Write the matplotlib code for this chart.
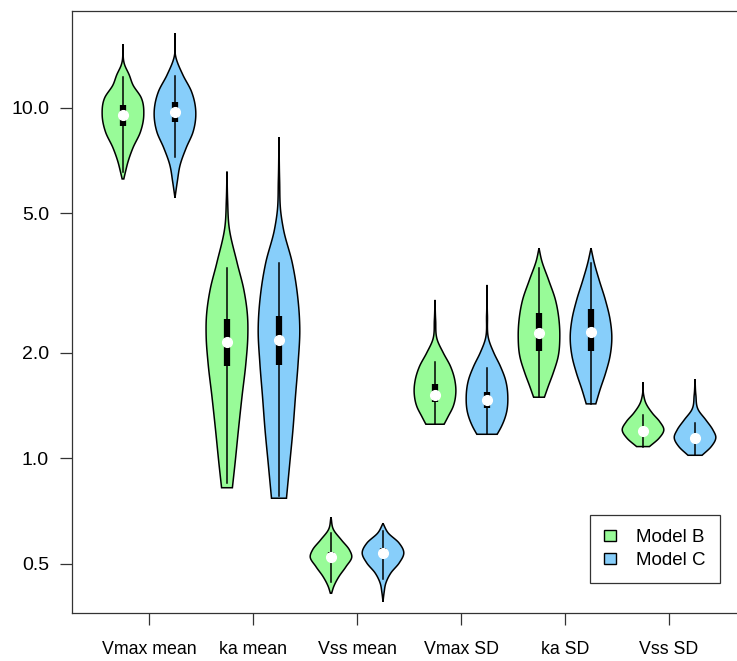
import numpy as np
import matplotlib.pyplot as plt
from matplotlib.patches import Patch

plt.rcParams['font.family'] = ['Liberation Sans', 'DejaVu Sans']

# parameters and models
params = ["Vmax mean", "ka mean", "Vss mean", "Vmax SD", "ka SD", "Vss SD"]
models = ["Model B", "Model C"]
colors = ["#98FB98", "#87CEFA"]

# Model B: box summaries
b_whi = [12.25, 3.49, 0.614, 1.89, 3.49, 1.33]
b_q3 = [10.2, 2.50, 0.54, 1.632, 2.60, 1.22]
b_med = [9.55, 2.15, 0.525, 1.518, 2.285, 1.20]
b_q1 = [8.88, 1.84, 0.51, 1.445, 2.03, 1.18]
b_wlo = [6.57, 0.85, 0.445, 1.252, 1.495, 1.081]

# Model C: box summaries
c_whi = [12.3, 3.6, 0.62, 1.81, 3.62, 1.26]
c_q3 = [10.38, 2.55, 0.555, 1.55, 2.665, 1.16]
c_med = [9.76, 2.17, 0.539, 1.468, 2.30, 1.14]
c_q1 = [9.14, 1.85, 0.525, 1.39, 2.03, 1.12]
c_wlo = [7.26, 0.78, 0.454, 1.172, 1.431, 1.021]

# Model B: density outline (value levels, relative half-width)
b_levels = [
    [15.2, 13.27, 12.42, 11.63, 10.68, 9.55, 8.54, 7.69, 7.01, 6.57, 6.27],
    [6.58, 5.47, 4.58, 3.61, 3.03, 2.53, 2.22, 1.873, 1.497, 1.206, 0.971, 0.825],
    [0.680, 0.625, 0.5855, 0.548, 0.5245, 0.491, 0.460, 0.4307, 0.4125],
    [2.833, 2.484, 2.178, 2.0, 1.828, 1.675, 1.535, 1.405, 1.316, 1.252],
    [3.98, 3.685, 3.231, 2.833, 2.484, 2.226, 1.952, 1.751, 1.603, 1.495],
    [1.650, 1.518, 1.437, 1.346, 1.274, 1.206, 1.142, 1.081],
]
b_widths = [
    [0.0, 0.08, 0.30, 0.48, 0.88, 1.0, 0.84, 0.48, 0.24, 0.12, 0.04],
    [0.0, 0.03, 0.10, 0.49, 0.81, 0.99, 1.0, 0.91, 0.72, 0.55, 0.39, 0.26],
    [0.0, 0.13, 0.50, 0.89, 1.0, 0.72, 0.38, 0.13, 0.03],
    [0.0, 0.03, 0.11, 0.40, 0.75, 0.95, 1.0, 0.87, 0.63, 0.44],
    [0.0, 0.12, 0.46, 0.79, 0.96, 1.0, 0.92, 0.68, 0.44, 0.26],
    [0.0, 0.03, 0.14, 0.45, 0.80, 1.0, 0.77, 0.31],
]

# Model C: density outline (value levels, relative half-width)
c_levels = [
    [16.34, 13.89, 12.42, 11.11, 9.74, 8.54, 7.69, 6.88, 6.15, 5.54],
    [8.25, 6.23, 5.02, 4.49, 3.61, 2.89, 2.33, 1.873, 1.497, 1.206, 0.971, 0.770],
    [0.653, 0.613, 0.574, 0.5385, 0.5033, 0.4714, 0.4414, 0.4133, 0.3904],
    [3.126, 2.567, 2.178, 2.0, 1.828, 1.675, 1.501, 1.346, 1.232, 1.172],
    [3.98, 3.606, 3.231, 2.833, 2.484, 2.226, 1.952, 1.751, 1.568, 1.431],
    [1.683, 1.518, 1.375, 1.288, 1.206, 1.149, 1.081, 1.021],
]
c_widths = [
    [0.0, 0.05, 0.38, 0.80, 1.0, 0.87, 0.54, 0.25, 0.11, 0.0],
    [0.0, 0.03, 0.09, 0.22, 0.64, 0.90, 1.0, 0.92, 0.79, 0.67, 0.52, 0.36],
    [0.0, 0.25, 0.77, 1.0, 0.78, 0.38, 0.14, 0.05, 0.0],
    [0.0, 0.02, 0.09, 0.33, 0.65, 0.89, 1.0, 0.93, 0.69, 0.49],
    [0.0, 0.16, 0.39, 0.69, 0.92, 1.0, 0.91, 0.70, 0.43, 0.23],
    [0.0, 0.04, 0.16, 0.52, 0.86, 1.0, 0.78, 0.34],
]


def smooth_outline(levels, widths, n=200):
    # cubic hermite through the outline points, in log10 space
    t = np.log10(levels)[::-1]
    w = np.array(widths, dtype=float)[::-1]
    m = np.gradient(w, t)
    tt = np.linspace(t[0], t[-1], n)
    idx = np.clip(np.searchsorted(t, tt) - 1, 0, len(t) - 2)
    h = t[idx + 1] - t[idx]
    s = (tt - t[idx]) / h
    h00 = 2 * s**3 - 3 * s**2 + 1
    h10 = s**3 - 2 * s**2 + s
    h01 = -2 * s**3 + 3 * s**2
    h11 = s**3 - s**2
    ww = h00 * w[idx] + h10 * h * m[idx] + h01 * w[idx + 1] + h11 * h * m[idx + 1]
    return 10**tt, np.clip(ww, 0, None)


def draw_violin(ax, pos, levels, widths, color, wlo, q1, med, q3, whi, half=0.4):
    yy, ww = smooth_outline(levels, widths)
    xs = np.concatenate([pos - half * ww, (pos + half * ww)[::-1]])
    ys = np.concatenate([yy, yy[::-1]])
    ax.fill(xs, ys, facecolor=color, edgecolor="black", lw=1.1, zorder=2)
    ax.plot([pos, pos], [wlo, whi], color="black", lw=1.1, zorder=3)
    ax.plot([pos, pos], [q1, q3], color="black", lw=4.5, solid_capstyle="butt", zorder=4)
    ax.plot(pos, med, "o", color="white", ms=7, mec="white", zorder=5)


fig = plt.figure(figsize=(7.37, 6.61), dpi=100)
ax = fig.add_axes([0.0977, 0.0726, 0.9145, 0.9108])

for k in range(len(params)):
    draw_violin(ax, 2 * k + 1, b_levels[k], b_widths[k], colors[0],
                b_wlo[k], b_q1[k], b_med[k], b_q3[k], b_whi[k])
    draw_violin(ax, 2 * k + 2, c_levels[k], c_widths[k], colors[1],
                c_wlo[k], c_q1[k], c_med[k], c_q3[k], c_whi[k])

ax.set_yscale("log")
ax.set_ylim(0.3623, 18.9)
ax.set_xlim(0.02, 12.98)

yticks = [0.5, 1.0, 2.0, 5.0, 10.0]
ax.set_yticks(yticks)
ax.set_yticklabels([f"{v:.1f}" for v in yticks])
ax.yaxis.set_minor_locator(plt.NullLocator())
ax.set_xticks([2 * k + 1.5 for k in range(len(params))])
ax.set_xticklabels(params)

ax.tick_params(axis="both", length=8.5, width=0.9, color="#333333")
ax.tick_params(axis="x", pad=12, labelsize=12.8)
ax.tick_params(axis="y", pad=8, labelsize=14)
for side in ["left", "bottom", "top"]:
    ax.spines[side].set_linewidth(0.9)
    ax.spines[side].set_color("#333333")
ax.spines["right"].set_visible(False)

handles = [Patch(facecolor=c, edgecolor="black", lw=1.0) for c in colors]
leg = ax.legend(handles, models, loc="lower right", bbox_to_anchor=(0.9614, 0.0498),
                fontsize=13.5, frameon=True, fancybox=False, handlelength=0.65,
                handleheight=0.55, handletextpad=1.1, borderpad=0.75,
                labelspacing=0.3, borderaxespad=0)
leg.get_frame().set_edgecolor("black")
leg.get_frame().set_linewidth(0.9)

fig.savefig("out.png", dpi=100)
